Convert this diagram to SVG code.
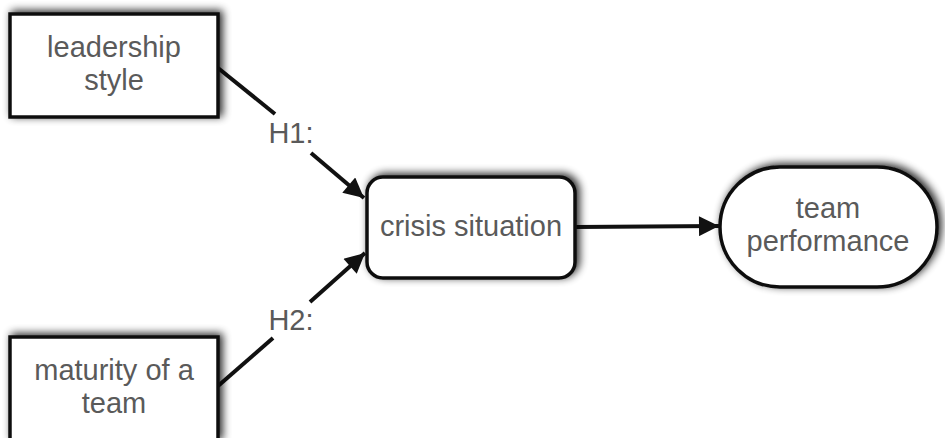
<svg xmlns="http://www.w3.org/2000/svg" width="945" height="438" viewBox="0 0 945 438">
<style>
.box{fill:#fff;stroke:#111;stroke-width:3.5;filter:url(#sh)}
.t{font-family:"Liberation Sans",Arial,sans-serif;font-size:29px;fill:#5a5a5a;text-anchor:middle}
.lbl{font-family:"Liberation Sans",Arial,sans-serif;font-size:29px;fill:#5a5a5a;text-anchor:middle}
.c{stroke:#111;stroke-width:4;fill:none}
</style>
<defs>
<filter id="sh" x="-20%" y="-30%" width="140%" height="160%">
<feGaussianBlur in="SourceAlpha" stdDeviation="4"/>
<feOffset dx="3" dy="-2" result="b"/>
<feComponentTransfer><feFuncA type="linear" slope="0.85"/></feComponentTransfer>
<feMerge><feMergeNode/><feMergeNode in="SourceGraphic"/></feMerge>
</filter>
<marker id="ah" viewBox="0 0 10 10" refX="10" refY="5" markerWidth="6" markerHeight="5" markerUnits="strokeWidth" orient="auto">
<path d="M0,0 L10,5 L0,10 z" fill="#111"/>
</marker>
</defs>
<g id="connectors">
<path class="c" d="M218,68 L275,114"/>
<path class="c" d="M311,153 L364,198" marker-end="url(#ah)"/>
<path class="c" d="M218,386 L273,338"/>
<path class="c" d="M310,302 L365,253" marker-end="url(#ah)"/>
<path class="c" d="M576,227 L719,226" marker-end="url(#ah)"/>
<text class="lbl" x="291" y="143">H1:</text>
<text class="lbl" x="291" y="330">H2:</text>
</g>
<g id="leadership">
<rect class="box" x="10" y="14" width="208" height="103"/>
<text class="t" x="114" y="57">leadership</text>
<text class="t" x="114" y="90">style</text>
</g>
<g id="maturity">
<rect class="box" x="10" y="337" width="208" height="103"/>
<text class="t" x="114" y="380">maturity of a</text>
<text class="t" x="114" y="413">team</text>
</g>
<g id="crisis">
<rect class="box" x="367" y="177" width="208" height="101" rx="16"/>
<text class="t" x="471" y="236">crisis situation</text>
</g>
<g id="team">
<rect class="box" x="720" y="167" width="217" height="120" rx="60"/>
<text class="t" x="828" y="218">team</text>
<text class="t" x="828" y="251">performance</text>
</g>
</svg>
